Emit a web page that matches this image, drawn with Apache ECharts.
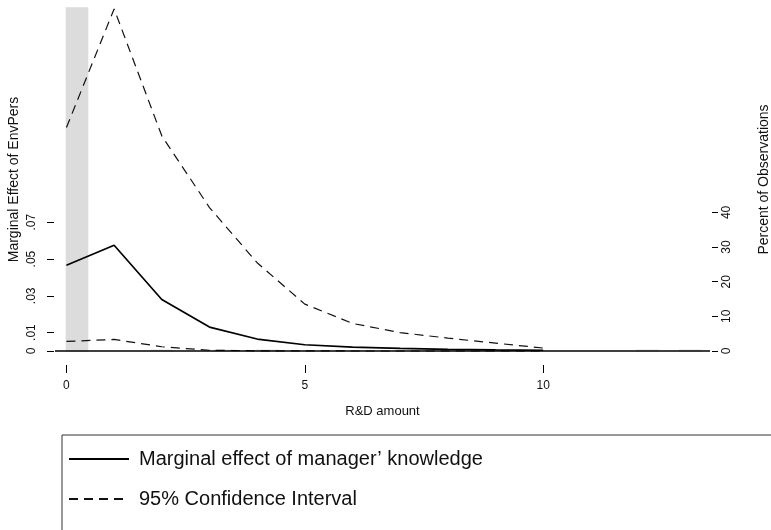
<!DOCTYPE html>
<html>
<head>
<meta charset="utf-8">
<script src="https://cdn.jsdelivr.net/npm/echarts@6/dist/echarts.min.js"></script>
<style>
html,body{margin:0;padding:0;background:#fff;}
#chart{width:771px;height:530px;}
</style>
</head>
<body>
<div id="chart"></div>
<script>
// ---- data ----
const rdAmount = [0, 1, 2, 3, 4, 5, 6, 7, 8, 9, 10];
const marginalEffect = [0.0466, 0.0575, 0.0280, 0.0130, 0.0065, 0.0034, 0.0021, 0.0014, 0.0009, 0.0006, 0.0004];
const ciUpper = [0.1215, 0.1860, 0.1170, 0.0780, 0.0480, 0.0255, 0.0150, 0.0100, 0.0070, 0.0043, 0.0016];
const ciLower = [0.0052, 0.0063, 0.0023, 0.0004, 0.0001, 0.0001, 0.0000, 0.0000, 0.0000, 0.0000, 0.0000];

const histBinLeft  = [0.000, 1.773, 3.103, 3.990, 11.970, 12.857];
const histBinRight = [0.443, 2.217, 3.547, 4.433, 12.413, 13.300];
const histPercent  = [99.0, 0.2, 0.2, 0.2, 0.2, 0.2];

const xTicks = [0, 5, 10];
const leftTicks = [0, 0.01, 0.03, 0.05, 0.07];
const rightTicks = [0, 10, 20, 30, 40];

const nameME = 'Marginal effect of manager\u2019 knowledge';
const nameCI = '95% Confidence Interval';

// ---- build ----
const FONT = 'Liberation Sans, Arial, Helvetica, sans-serif';
const TXT = '#111';
const pair = (ys) => rdAmount.map((x, i) => [x, ys[i]]);
const histAll = histBinLeft.map((l, i) => [l, histBinRight[i], histPercent[i]]);
const histBig = histAll.filter(d => d[2] > 50);
const histSmall = histAll.filter(d => d[2] <= 50);

function renderHist(params, api) {
  const a = api.coord([api.value(0), 0]);
  const b = api.coord([api.value(1), api.value(2)]);
  return {
    type: 'rect',
    shape: { x: a[0], y: b[1], width: b[0] - a[0], height: a[1] - b[1] },
    style: { fill: '#dcdcdc', stroke: '#dcdcdc', lineWidth: 1.5 }
  };
}

const chart = echarts.init(document.getElementById('chart'), null, { renderer: 'canvas' });
chart.setOption({
  animation: false,
  backgroundColor: '#fff',
  textStyle: { fontFamily: FONT },
  grid: { left: 55, right: 61, top: 8, bottom: 179, containLabel: false, outerBoundsMode: 'none' },
  xAxis: {
    type: 'value', min: -0.24, max: 13.5, offset: 14,
    axisLine: { show: false, onZero: false },
    axisTick: { show: true, length: 8, lineStyle: { color: '#000', width: 1 }, customValues: xTicks },
    axisLabel: { customValues: xTicks, margin: 15, fontSize: 12, color: TXT, fontFamily: FONT },
    splitLine: { show: false },
    name: 'R&D amount', nameLocation: 'middle', nameGap: 40, nameMoveOverlap: false,
    nameTextStyle: { fontSize: 13, color: TXT, fontFamily: FONT }
  },
  yAxis: [{
    type: 'value', min: 0, max: 0.1865, position: 'left', offset: 1,
    axisLine: { show: false, onZero: false },
    axisTick: { show: true, length: 7, lineStyle: { color: '#000', width: 1 }, customValues: leftTicks },
    axisLabel: {
      customValues: leftTicks, rotate: 90, margin: 16, fontSize: 12, color: TXT, fontFamily: FONT,
      formatter: v => v === 0 ? '0' : String(+v.toFixed(4)).replace(/^0/, '')
    },
    splitLine: { show: false },
    name: 'Marginal Effect of EnvPers', nameLocation: 'middle', nameGap: 33, nameMoveOverlap: false,
    nameTextStyle: { fontSize: 14, color: TXT, fontFamily: FONT }
  }, {
    type: 'value', min: 0, max: 99.0, position: 'right', offset: 2,
    axisLine: { show: false, onZero: false },
    axisTick: { show: true, length: 6, lineStyle: { color: '#000', width: 1 }, customValues: rightTicks },
    axisLabel: { customValues: rightTicks, rotate: 90, margin: 9, fontSize: 12, color: TXT, fontFamily: FONT },
    splitLine: { show: false },
    name: 'Percent of Observations', nameLocation: 'middle', nameGap: 45, nameMoveOverlap: false,
    nameTextStyle: { fontSize: 14, color: TXT, fontFamily: FONT }
  }],
  legend: {
    orient: 'vertical', left: 68, top: 449, padding: 0,
    itemWidth: 60, itemHeight: 20, itemGap: 20,
    data: [nameME, nameCI],
    itemStyle: { opacity: 0 },
    textStyle: { fontSize: 20, color: TXT, fontFamily: FONT, padding: [0, 0, 0, 5] },
    selectedMode: false
  },
  graphic: [{
    type: 'rect', silent: true,
    shape: { x: 62, y: 435, width: 760, height: 140 },
    style: { fill: 'none', stroke: '#333', lineWidth: 1 }
  }],
  series: [
    { type: 'custom', name: 'histBig', yAxisIndex: 1, z: 1, renderItem: renderHist,
      encode: { x: [0, 1], y: 2 }, data: histBig, silent: true },
    { type: 'line', name: 'zero', z: 2, data: [], silent: true,
      markLine: { silent: true, symbol: 'none', label: { show: false },
        lineStyle: { color: '#000', width: 1.6, type: 'solid' }, data: [{ yAxis: 0 }] } },
    { type: 'custom', name: 'histSmall', yAxisIndex: 1, z: 3, renderItem: renderHist,
      encode: { x: [0, 1], y: 2 }, data: histSmall, silent: true },
    { type: 'line', name: nameME, z: 5, data: pair(marginalEffect), symbol: 'none', clip: false,
      lineStyle: { color: '#000', width: 1.7, type: 'solid' }, itemStyle: { color: '#000' } },
    { type: 'line', name: nameCI, z: 4, data: pair(ciUpper), symbol: 'none', clip: false,
      lineStyle: { color: '#111', width: 1.2, type: [9, 6] }, itemStyle: { color: '#111' } },
    { type: 'line', name: nameCI, z: 4, data: pair(ciLower), symbol: 'none', clip: false,
      lineStyle: { color: '#111', width: 1.2, type: [9, 6] }, itemStyle: { color: '#111' } }
  ]
});
</script>
</body>
</html>
